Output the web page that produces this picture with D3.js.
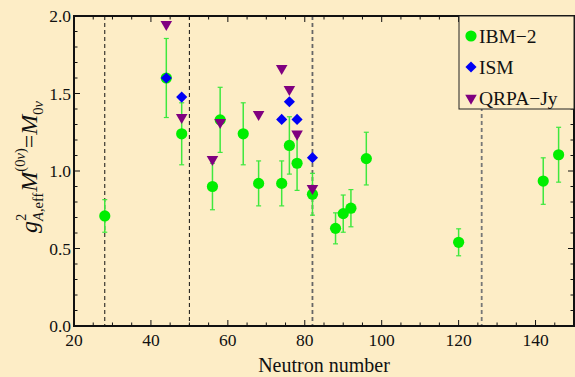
<!DOCTYPE html>
<html>
<head>
<meta charset="utf-8">
<script src="https://cdn.jsdelivr.net/npm/d3@7"></script>
<style>
    body { margin: 0; background: #fdedc6; }
    text { font-family: "Liberation Serif", "Times New Roman", serif; fill: #111; }
</style>
</head>
<body>
<div id="chart"></div>
<script>
// data
const ibmN = [28, 44, 48, 56, 58, 64, 68, 74, 76, 78, 82, 88, 90, 92, 96, 120, 142, 146];
const ibmM = [0.71, 1.60, 1.24, 0.90, 1.33, 1.24, 0.92, 0.92, 1.165, 1.05, 0.85, 0.63, 0.725, 0.76, 1.08, 0.54, 0.935, 1.105];
const ibmErr = [0.105, 0.255, 0.20, 0.15, 0.21, 0.20, 0.145, 0.145, 0.185, 0.175, 0.135, 0.10, 0.12, 0.12, 0.17, 0.087, 0.15, 0.177];

const ismN = [44, 48, 74, 76, 78, 82];
const ismM = [1.60, 1.477, 1.333, 1.447, 1.333, 1.086];

const qrpaN = [44, 48, 56, 58, 68, 74, 76, 78, 82];
const qrpaM = [1.946, 1.346, 1.075, 1.314, 1.366, 1.662, 1.527, 1.239, 0.888];

const magicN = [28, 50, 82, 126];
const seriesNames = ["IBM\u22122", "ISM", "QRPA\u2212Jy"];
const xTicks = [20, 40, 60, 80, 100, 120, 140];
const yTicks = [0.0, 0.5, 1.0, 1.5, 2.0];

const width = 575;
const height = 377;
const margin = {top: 16, right: 1, bottom: 51, left: 74};

const green = "#00ee00";
const errGreen = "#3ee83e";
const blue = "#0000f5";
const purple = "#800080";

const svg = d3.select("#chart")
    .append("svg")
    .attr("width", width)
    .attr("height", height);

svg.append("rect")
    .attr("width", width)
    .attr("height", height)
    .attr("fill", "#fdedc6");

const x = d3.scaleLinear()
    .domain([20, 150])
    .range([margin.left, width - margin.right]);

const y = d3.scaleLinear()
    .domain([0, 2])
    .range([height - margin.bottom, margin.top]);

const x0 = x.range()[0], x1 = x.range()[1];
const y0 = y.range()[0], y1 = y.range()[1];

// Title magic number lines
const magicColor = ["#111", "#111", "#666", "#777"];
const magicWidth = [1, 1, 1.8, 1.8];
magicN.forEach(function(d, i) {
    svg.append("line")
        .attr("x1", x(d)).attr("x2", x(d))
        .attr("y1", y1).attr("y2", y0)
        .attr("stroke", magicColor[i])
        .attr("stroke-width", magicWidth[i])
        .attr("stroke-dasharray", "4,3");
});

// Title ticks on all four sides, pointing inwards
const xMinor = d3.range(20, 151, 5);
const yMinor = d3.range(0, 2.001, 0.1);

function isMajorX(d) { return d % 20 === 0; }
function isMajorY(d) { return Math.abs(d * 2 - Math.round(d * 2)) < 1e-6; }

xMinor.forEach(function(d) {
    const len = isMajorX(d) ? 6 : 3.5;
    svg.append("line")
        .attr("x1", x(d)).attr("x2", x(d))
        .attr("y1", y0).attr("y2", y0 - len)
        .attr("stroke", "#111").attr("stroke-width", 1);
    svg.append("line")
        .attr("x1", x(d)).attr("x2", x(d))
        .attr("y1", y1).attr("y2", y1 + len)
        .attr("stroke", "#111").attr("stroke-width", 1);
});

yMinor.forEach(function(d) {
    const len = isMajorY(d) ? 6 : 3.5;
    svg.append("line")
        .attr("x1", x0).attr("x2", x0 + len)
        .attr("y1", y(d)).attr("y2", y(d))
        .attr("stroke", "#111").attr("stroke-width", 1);
    svg.append("line")
        .attr("x1", x1).attr("x2", x1 - len)
        .attr("y1", y(d)).attr("y2", y(d))
        .attr("stroke", "#111").attr("stroke-width", 1);
});

// Title tick labels
svg.selectAll(".xlab")
    .data(xTicks)
    .enter()
    .append("text")
    .attr("x", d => x(d))
    .attr("y", y0 + 20)
    .attr("text-anchor", "middle")
    .attr("font-size", 17.5)
    .text(d => d);

svg.selectAll(".ylab")
    .data(yTicks)
    .enter()
    .append("text")
    .attr("x", x0 - 3)
    .attr("y", d => y(d) + 6)
    .attr("text-anchor", "end")
    .attr("font-size", 17.5)
    .text(d => d.toFixed(1));

// Title error bars
ibmN.forEach(function(d, i) {
    const top = y(ibmM[i] + ibmErr[i]);
    const bot = y(ibmM[i] - ibmErr[i]);
    svg.append("line")
        .attr("x1", x(d)).attr("x2", x(d))
        .attr("y1", top).attr("y2", bot)
        .attr("stroke", errGreen).attr("stroke-width", 1.5);
    [top, bot].forEach(function(v) {
        svg.append("line")
            .attr("x1", x(d) - 2.5).attr("x2", x(d) + 2.5)
            .attr("y1", v).attr("y2", v)
            .attr("stroke", errGreen).attr("stroke-width", 1.2);
    });
});

// Title markers
const diamond = d3.symbol().type(d3.symbolSquare).size(62);
const triangle = d3.symbol().type(d3.symbolTriangle).size(58);

function drawCircle(g, cx, cy) {
    g.append("circle")
        .attr("cx", cx).attr("cy", cy)
        .attr("r", 5.6)
        .attr("fill", green);
}
function drawDiamond(g, cx, cy) {
    g.append("path")
        .attr("d", diamond())
        .attr("transform", `translate(${cx},${cy}) rotate(45)`)
        .attr("fill", blue);
}
function drawTriangle(g, cx, cy) {
    g.append("path")
        .attr("d", triangle())
        .attr("transform", `translate(${cx},${cy}) rotate(180)`)
        .attr("fill", purple);
}

ibmN.forEach((d, i) => drawCircle(svg, x(d), y(ibmM[i])));
ismN.forEach((d, i) => drawDiamond(svg, x(d), y(ismM[i])));
qrpaN.forEach((d, i) => drawTriangle(svg, x(d), y(qrpaM[i])));

// Title frame
svg.append("rect")
    .attr("x", x0).attr("y", y1)
    .attr("width", x1 - x0).attr("height", y0 - y1)
    .attr("fill", "none")
    .attr("stroke", "#111")
    .attr("stroke-width", 2);

// Title legend
const legend = svg.append("g");
legend.append("rect")
    .attr("x", 459).attr("y", y1)
    .attr("width", x1 - 459).attr("height", 93)
    .attr("fill", "#fdedc6")
    .attr("stroke", "#222")
    .attr("stroke-width", 1);

const markers = [drawCircle, drawDiamond, drawTriangle];
seriesNames.forEach(function(d, i) {
    const cy = 36 + 31 * i;
    markers[i](legend, 471, cy);
    legend.append("text")
        .attr("x", 479)
        .attr("y", cy + 6.5)
        .attr("font-size", 19.5)
        .text(d);
});

// Title axis labels
svg.append("text")
    .attr("x", (x0 + x1) / 2)
    .attr("y", height - 5)
    .attr("text-anchor", "middle")
    .attr("font-size", 20)
    .text("Neutron number");

// y label is built from pieces so the scripts can stack
const ylab = svg.append("g");
const pieces = [
    {t: "g", s: 24, dy: 0, it: true},
    {t: "2", s: 14.5, dy: -11, stack: true},
    {t: "A", s: 14.5, dy: 6, it: true},
    {t: ",eff", s: 14.5, dy: 6},
    {t: "M", s: 24, dy: 0, it: true, pad: 1},
    {t: "(0", s: 14.5, dy: -12},
    {t: "\u03bd", s: 14.5, dy: -12, it: true},
    {t: ")", s: 14.5, dy: -12},
    {t: "=", s: 24, dy: 0},
    {t: "M", s: 24, dy: 0, it: true},
    {t: "0", s: 14.5, dy: 6},
    {t: "\u03bd", s: 14.5, dy: 6, it: true}
];
let pos = 0;
pieces.forEach(function(p) {
    const t = ylab.append("text")
        .attr("x", pos + (p.pad || 0))
        .attr("y", p.dy)
        .attr("font-size", p.s)
        .attr("font-style", p.it ? "italic" : "normal")
        .text(p.t);
    const w = t.node().getComputedTextLength();
    if (!p.stack) pos += w + (p.pad || 0);
});
ylab.attr("transform", `translate(37, ${167 + pos / 2}) rotate(-90)`);
</script>
</body>
</html>
